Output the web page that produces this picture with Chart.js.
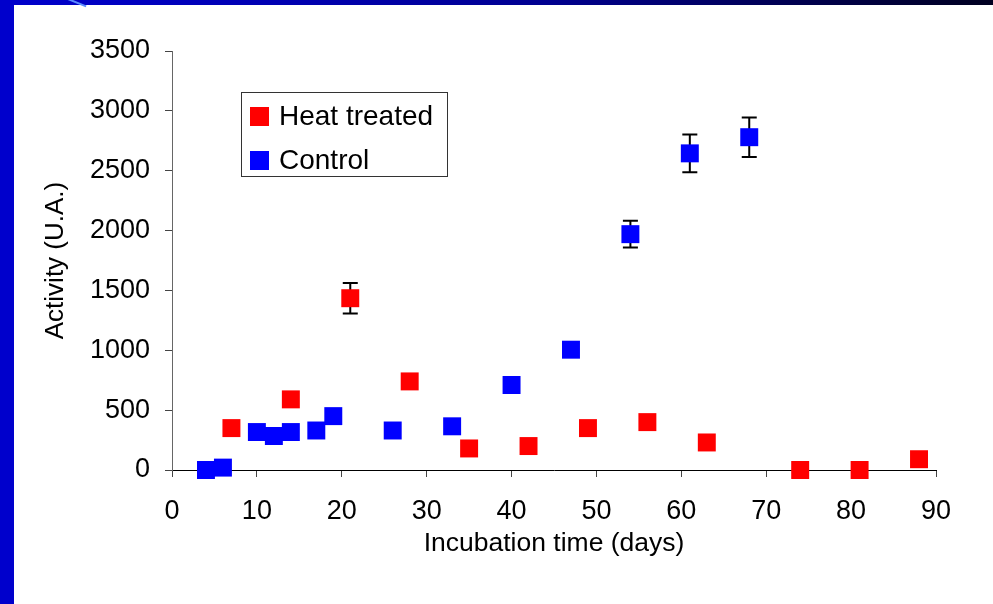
<!DOCTYPE html>
<html>
<head>
<meta charset="utf-8">
<script src="https://cdn.jsdelivr.net/npm/chart.js@4.4.0/dist/chart.umd.min.js"></script>
<style>
  html, body { margin: 0; padding: 0; background: #ffffff; }
  #wrap { position: relative; width: 993px; height: 604px; overflow: hidden; background: #ffffff; }
  #c { position: absolute; left: 0; top: 0; }
  #topbar { position: absolute; left: 0; top: 0; width: 993px; height: 5px;
    background: linear-gradient(to right, #0000cc 0%, #0000b0 30%, #000090 55%, #000050 80%, #000020 100%); z-index: 2; }
  #leftbar { position: absolute; left: 0; top: 0; width: 14px; height: 604px; background: #0000cc; z-index: 3; }
  #streak { position: absolute; left: 68px; top: -2px; width: 20px; height: 2px; background: #5a8cff;
    transform: rotate(22deg); transform-origin: left top; z-index: 4; }
</style>
</head>
<body>
<div id="wrap">
  <canvas id="c" width="993" height="604"></canvas>
  <div id="topbar"></div>
  <div id="leftbar"></div>
  <div id="streak"></div>
</div>
<script>
// ---- Data ----
const heatDays     = [7, 14, 21, 28, 35, 42, 49, 56, 63, 74, 81, 88];
const heatActivity = [350, 590, 1435, 740, 180, 200, 350, 400, 230, 0, 0, 90];
const heatError    = [0, 0, 128, 0, 0, 0, 0, 0, 0, 0, 0, 0];

const ctrlDays     = [4, 6, 10, 12, 14, 17, 19, 26, 33, 40, 47, 54, 61, 68];
const ctrlActivity = [0, 20, 317, 284, 317, 330, 450, 330, 365, 710, 1005, 1970, 2645, 2780];
const ctrlError    = [0, 0, 0, 0, 0, 0, 0, 0, 0, 0, 0, 112, 157, 165];

const seriesLabels = ['Heat treated', 'Control'];
const seriesColors = ['#ff0000', '#0000ff'];

const xTicks = [0, 10, 20, 30, 40, 50, 60, 70, 80, 90];
const yTicks = [0, 500, 1000, 1500, 2000, 2500, 3000, 3500];

const xTitle = 'Incubation time (days)';
const yTitle = 'Activity (U.A.)';

const FONT = "'Liberation Sans', Arial, sans-serif";

function toPoints(xs, ys, es) {
  return xs.map((x, i) => ({ x: x, y: ys[i], err: es[i] }));
}

const errorBars = {
  id: 'errorBars',
  beforeDatasetsDraw(chart) {
    const ctx = chart.ctx;
    const xs = chart.scales.x, ys = chart.scales.y;
    ctx.save();
    ctx.strokeStyle = '#000000';
    ctx.lineWidth = 2;
    chart.data.datasets.forEach(ds => {
      ds.data.forEach(p => {
        if (!p.err) return;
        const px = xs.getPixelForValue(p.x);
        const top = ys.getPixelForValue(p.y + p.err);
        const bot = ys.getPixelForValue(p.y - p.err);
        const half = 7.5;
        ctx.beginPath();
        ctx.moveTo(px, top); ctx.lineTo(px, bot);
        ctx.moveTo(px - half, top); ctx.lineTo(px + half, top);
        ctx.moveTo(px - half, bot); ctx.lineTo(px + half, bot);
        ctx.stroke();
      });
    });
    ctx.restore();
  }
};

const boxLegend = {
  id: 'boxLegend',
  afterDraw(chart) {
    const ctx = chart.ctx;
    const a = chart.chartArea;
    const x0 = a.left + 69, y0 = a.top + 41, w = 206, h = 84;
    ctx.save();
    ctx.fillStyle = '#ffffff';
    ctx.fillRect(x0, y0, w, h);
    ctx.strokeStyle = '#333333';
    ctx.lineWidth = 1;
    ctx.strokeRect(x0 + 0.5, y0 + 0.5, w, h);
    ctx.font = '28px ' + FONT;
    ctx.textBaseline = 'middle';
    ctx.textAlign = 'left';
    chart.data.datasets.forEach((ds, i) => {
      const cy = y0 + 24.5 + i * 44;
      ctx.fillStyle = ds.backgroundColor;
      ctx.fillRect(x0 + 9, cy - 9.5, 19, 19);
      ctx.fillStyle = '#000000';
      ctx.fillText(ds.label, x0 + 38, cy + 1);
    });
    ctx.restore();
  }
};

new Chart(document.getElementById('c'), {
  type: 'scatter',
  data: {
    datasets: [
      { label: seriesLabels[0], data: toPoints(heatDays, heatActivity, heatError),
        backgroundColor: seriesColors[0], borderColor: seriesColors[0], borderWidth: 0, clip: false,
        pointStyle: 'rect', pointRadius: 12.7, pointHoverRadius: 12.7 },
      { label: seriesLabels[1], data: toPoints(ctrlDays, ctrlActivity, ctrlError),
        backgroundColor: seriesColors[1], borderColor: seriesColors[1], borderWidth: 0, clip: false,
        pointStyle: 'rect', pointRadius: 12.7, pointHoverRadius: 12.7 }
    ]
  },
  options: {
    responsive: false,
    animation: false,
    events: [],
    layout: { padding: { left: 0, top: 51, right: 57, bottom: 0 } },
    plugins: { legend: { display: false }, tooltip: { enabled: false } },
    scales: {
      x: {
        type: 'linear', min: 0, max: 90,
        afterBuildTicks: s => { s.ticks = xTicks.map(v => ({ value: v })); },
        afterFit: s => { s.height = 134; },
        ticks: { color: '#000', font: { family: FONT, size: 27 }, padding: 18, maxRotation: 0, autoSkip: false,
                 callback: v => String(v) },
        grid: { drawOnChartArea: false, drawTicks: true, tickLength: 7, color: '#444', lineWidth: 1 },
        border: { color: '#000', width: 1 },
        title: { display: true, text: xTitle, color: '#000', font: { family: FONT, size: 26.5 }, padding: { top: 0, bottom: 44 } }
      },
      y: {
        type: 'linear', min: 0, max: 3500,
        afterBuildTicks: s => { s.ticks = yTicks.map(v => ({ value: v })); },
        afterFit: s => { s.width = 172; },
        ticks: { color: '#000', font: { family: FONT, size: 27 }, padding: 15, autoSkip: false,
                 callback: v => String(v) },
        grid: { drawOnChartArea: false, drawTicks: true, tickLength: 7, color: '#444', lineWidth: 1 },
        border: { color: '#666', width: 1 },
        title: { display: true, text: yTitle, color: '#000', font: { family: FONT, size: 26 }, padding: { top: 40, bottom: 0 } }
      }
    }
  },
  plugins: [errorBars, boxLegend]
});
</script>
</body>
</html>
